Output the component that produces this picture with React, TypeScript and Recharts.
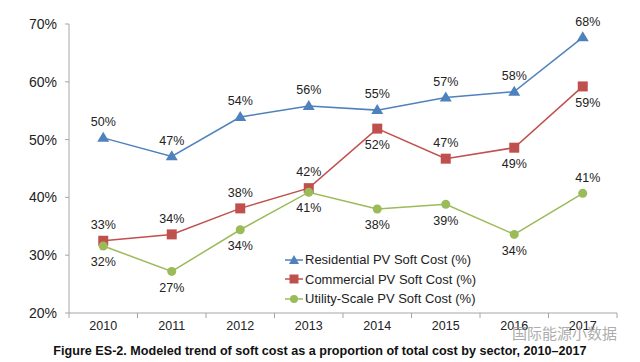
import { LabelList, Line, LineChart, XAxis, YAxis } from "recharts";

const years = ["2010", "2011", "2012", "2013", "2014", "2015", "2016", "2017"];
const residential = [50.3, 47.1, 53.9, 55.8, 55.1, 57.3, 58.3, 67.7];
const commercial = [32.5, 33.6, 38.1, 41.6, 51.9, 46.7, 48.6, 59.2];
const utility = [31.6, 27.2, 34.4, 40.9, 38.0, 38.8, 33.6, 40.7];
const residentialLabels = ["50%", "47%", "54%", "56%", "55%", "57%", "58%", "68%"];
const commercialLabels = ["33%", "34%", "38%", "42%", "52%", "47%", "49%", "59%"];
const utilityLabels = ["32%", "27%", "34%", "41%", "38%", "39%", "34%", "41%"];
const yTicks = [20, 30, 40, 50, 60, 70];

// which points carry their label under the marker
const commercialBelow = ["2014", "2016", "2017"];
const utilityAbove = ["2017"];

const data = years.map((year, i) => ({
  year,
  residential: residential[i],
  commercial: commercial[i],
  utility: utility[i],
}));

const BLUE = "#4f81bd";
const RED = "#c0504d";
const GREEN = "#9bbb59";
const AXIS = "#a6a6a6";
const FONT = "'Liberation Sans', Arial, sans-serif";
const HALF_BAND = 34.25;

const Triangle = ({ cx, cy }: any) =>
  cx == null ? null : (
    <polygon points={`${cx},${cy - 6} ${cx + 6},${cy + 4} ${cx - 6},${cy + 4}`} fill={BLUE} />
  );
const Square = ({ cx, cy }: any) =>
  cx == null ? null : <rect x={cx - 5} y={cy - 5} width={10} height={10} fill={RED} />;
const Circle = ({ cx, cy }: any) =>
  cx == null ? null : <circle cx={cx} cy={cy} r={4.5} fill={GREEN} />;

const makeLabel = (texts: string[], below: (year: string) => boolean) => (props: any) => {
  const { x, y, index } = props;
  const down = below(years[index]);
  const dx = index === years.length - 1 ? 5 : 0;
  return (
    <text
      x={x + dx}
      y={y + (down ? 17 : -15)}
      textAnchor="middle"
      dominantBaseline="middle"
      fontSize={12.5}
      fontFamily={FONT}
      fill="#222"
    >
      {texts[index]}
    </text>
  );
};

const XTick = (props: any) => {
  const { x, y, payload, index } = props;
  return (
    <g>
      <line x1={x - HALF_BAND} x2={x - HALF_BAND} y1={y - 8} y2={y - 3} stroke={AXIS} />
      {index === years.length - 1 && (
        <line x1={x + HALF_BAND} x2={x + HALF_BAND} y1={y - 8} y2={y - 3} stroke={AXIS} />
      )}
      <text x={x} y={y + 6} textAnchor="middle" dominantBaseline="middle" fontSize={12.5} fontFamily={FONT} fill="#222">
        {payload.value}
      </text>
    </g>
  );
};

const legendItems = [
  { name: "Residential PV Soft Cost (%)", color: BLUE, mark: "tri" },
  { name: "Commercial PV Soft Cost (%)", color: RED, mark: "sq" },
  { name: "Utility-Scale PV Soft Cost (%)", color: GREEN, mark: "ci" },
];

const LegendBox = () => (
  <div style={{ position: "absolute", left: 285, top: 250, fontFamily: FONT, fontSize: 13, color: "#222" }}>
    {legendItems.map((item) => (
      <div key={item.name} style={{ display: "flex", alignItems: "center", height: 19.5 }}>
        <svg width={18} height={12} style={{ marginRight: 2 }}>
          <line x1={0} x2={18} y1={6} y2={6} stroke={item.color} strokeWidth={1.5} />
          {item.mark === "tri" && <polygon points="9,1 14,10 4,10" fill={item.color} />}
          {item.mark === "sq" && <rect x={4.5} y={1.5} width={9} height={9} fill={item.color} />}
          {item.mark === "ci" && <circle cx={9} cy={6} r={4} fill={item.color} />}
        </svg>
        <span>{item.name}</span>
      </div>
    ))}
  </div>
);

export default function App() {
  return (
    <div style={{ position: "fixed", left: 0, top: 0, width: 640, height: 362, background: "#fff" }}>
      <LineChart width={640} height={362} data={data} margin={{ top: 24, right: 23, bottom: 0, left: 0 }}>
        <XAxis
          dataKey="year"
          height={49}
          padding={{ left: HALF_BAND, right: HALF_BAND }}
          axisLine={{ stroke: AXIS }}
          tickLine={false}
          tick={<XTick />}
          interval={0}
        />
        <YAxis
          width={69}
          domain={[20, 70]}
          ticks={yTicks}
          tickFormatter={(v: number) => `${v}%`}
          axisLine={{ stroke: AXIS }}
          tickLine={{ stroke: AXIS }}
          tickSize={4}
          tickMargin={8}
          tick={{ fontSize: 14, fontFamily: FONT, fill: "#222" }}
        />
        <Line
          dataKey="residential"
          stroke={BLUE}
          strokeWidth={1.5}
          dot={<Triangle />}
          isAnimationActive={false}
        >
          <LabelList dataKey="residential" content={makeLabel(residentialLabels, () => false)} />
        </Line>
        <Line
          dataKey="commercial"
          stroke={RED}
          strokeWidth={1.5}
          dot={<Square />}
          isAnimationActive={false}
        >
          <LabelList dataKey="commercial" content={makeLabel(commercialLabels, (y) => commercialBelow.includes(y))} />
        </Line>
        <Line
          dataKey="utility"
          stroke={GREEN}
          strokeWidth={1.5}
          dot={<Circle />}
          isAnimationActive={false}
        >
          <LabelList dataKey="utility" content={makeLabel(utilityLabels, (y) => !utilityAbove.includes(y))} />
        </Line>
      </LineChart>
      <LegendBox />
      <div
        style={{
          position: "absolute",
          left: 0,
          width: 640,
          top: 344,
          textAlign: "center",
          fontFamily: FONT,
          fontWeight: "bold",
          fontSize: 12.6,
          color: "#111",
        }}
      >
        Figure ES-2. Modeled trend of soft cost as a proportion of total cost by sector, 2010–2017
      </div>
      <div
        style={{
          position: "absolute",
          left: 512,
          top: 322,
          fontFamily: "'Noto Sans CJK SC', sans-serif",
          fontSize: 15,
          color: "rgba(150,150,150,0.8)",
        }}
      >
        国际能源小数据
      </div>
    </div>
  );
}
